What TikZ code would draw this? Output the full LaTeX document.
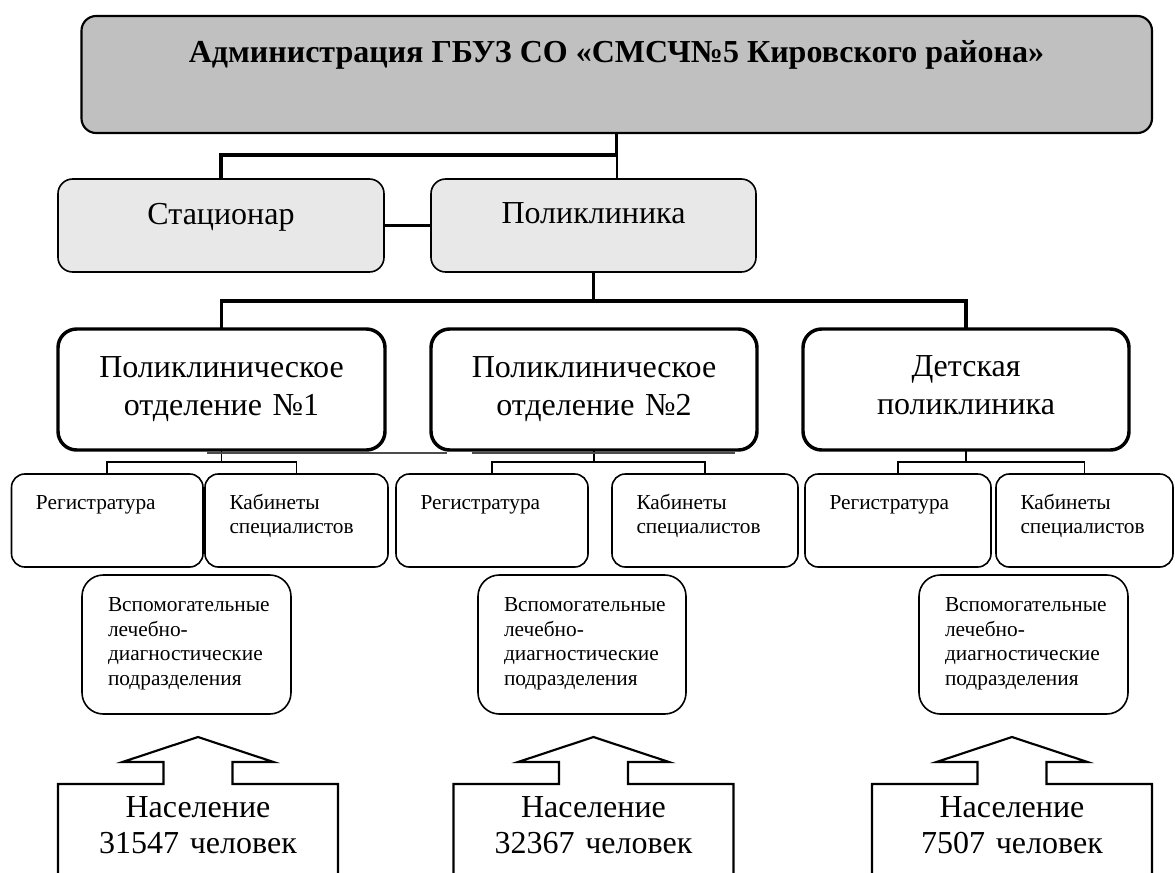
\documentclass[tikz,border=0pt]{standalone}
\usepackage{fontspec}
\setmainfont{Liberation Serif}
\usetikzlibrary{fit}
\definecolor{topgray}{HTML}{C0C0C0}
\definecolor{midgray}{HTML}{E8E8E8}
\tikzset{
  poparrow/.pic={
    \draw[popshape] (-140,90) -- (-140,0) -- (-34.5,0) -- (-34.5,-22) -- (-75.5,-22)
      -- (0,-47) -- (75.5,-22) -- (34.5,-22) -- (34.5,0) -- (140,0) -- (140,90);
  }
}
\begin{document}
\begin{tikzpicture}[x=0.75pt,y=-0.75pt,
  every node/.style={inner sep=0pt, outer sep=0pt},
  topbox/.style={draw, line width=1.6pt, fill=topgray, rounded corners=11pt},
  midbox/.style={draw, line width=1.2pt, fill=midgray, rounded corners=11pt},
  deptbox/.style={draw, line width=2.6pt, rounded corners=14pt},
  subbox/.style={draw, line width=1.2pt, rounded corners=10pt},
  auxbox/.style={draw, line width=1.2pt, rounded corners=16pt},
  bigtext/.style={font=\fontsize{24pt}{28.5pt}\selectfont, align=center, text width=240pt, anchor=base},
  titletext/.style={font=\fontsize{24pt}{28pt}\selectfont\bfseries, anchor=base},
  smalltext/.style={font=\fontsize{16pt}{18.4pt}\selectfont, align=left, text width=140pt, anchor=base west},
  poptext/.style={font=\fontsize{24pt}{27pt}\selectfont, align=center, text width=200pt, anchor=base},
  mainlink/.style={line width=2.4pt},
  sublink/.style={line width=1.2pt},
  popshape/.style={draw, line width=1.6pt},
  shadowline/.style={line width=1pt, draw=black!70}
]
\useasboundingbox (0,0) rectangle (1175,872);
\clip (0,0) rectangle (1175,872);

% top
\node[topbox, fit={(81.5,16) (1152,133)}] (admin) {};
\node[titletext] (admintext) at (616.5,62) {Администрация ГБУЗ СО «СМСЧ№5 Кировского района»};

% level 2
\node[midbox, fit={(58,179) (384,272)}] (stac) {};
\node[bigtext] (stactext) at (221,224) {Стационар};
\node[midbox, fit={(431,179) (756,272)}] (polik) {};
\node[bigtext] (poliktext) at (593.5,223) {Поликлиника};

% level 3
\node[deptbox, fit={(58,329) (385,450)}] (dep1) {};
\node[bigtext] (dep1text) at (221.5,377) {Поликлиническое\\отделение №1};
\node[deptbox, fit={(431,329) (757,450)}] (dep2) {};
\node[bigtext] (dep2text) at (594,377) {Поликлиническое\\отделение №2};
\node[deptbox, fit={(803,329) (1129,450)}] (dep3) {};
\node[bigtext] (dep3text) at (966,376) {Детская\\поликлиника};

% level 4
\node[subbox, fit={(11.5,474) (203,567)}] (reg1) {};
\node[subbox, fit={(205,474) (388,567)}] (kab1) {};
\node[subbox, fit={(396,474) (588,567)}] (reg2) {};
\node[subbox, fit={(612,474) (798,567)}] (kab2) {};
\node[subbox, fit={(805,474) (991,567)}] (reg3) {};
\node[subbox, fit={(996,474) (1173,567)}] (kab3) {};
\foreach \b in {reg1,reg2,reg3}{
  \node[smalltext] (\b text) at ([shift={(24.5,35)}]\b.north west) {Регистратура};
}
\foreach \b in {kab1,kab2,kab3}{
  \node[smalltext] (\b text) at ([shift={(24.5,35)}]\b.north west) {Кабинеты\\специалистов};
}

% level 5
\node[auxbox, fit={(82,575) (291,714)}] (aux1) {};
\node[auxbox, fit={(478,575) (686,714)}] (aux2) {};
\node[auxbox, fit={(919,575) (1128,714)}] (aux3) {};
\foreach \b in {aux1,aux2,aux3}{
  \node[smalltext] (\b text) at ([shift={(26,36.7)}]\b.north west) {Вспомогательные\\лечебно-\\диагностические\\подразделения};
}

% connectors
\coordinate (j1) at (616.75,155);
\draw[mainlink] (admin.south) -- (j1) -| (stac.north);
\draw[sublink] (j1) -- (j1 |- polik.north);
\draw[mainlink] (stac.east) -- (polik.west);
\coordinate (bar) at (593.5,301);
\draw[mainlink] (polik.south) -- (bar);
\draw[mainlink] (dep1.north) |- (bar) -| (dep3.north);
\draw[sublink] (dep1.south) -- ++(0,12) coordinate (s1);
\draw[sublink] (reg1.north) |- (s1) -| (kab1.north);
\draw[sublink] (dep2.south) -- ++(0,12) coordinate (s2);
\draw[sublink] (reg2.north) |- (s2) -| (kab2.north);
\draw[sublink] (dep3.south) -- ++(0,12) coordinate (s3);
\draw[sublink] (reg3.north) |- (s3) -| (kab3.north);

% shadow artifacts
\draw[shadowline] (207,453) -- (447,453);
\draw[shadowline] (472,453) -- (735,453);

% population arrows
\pic (pop1) at (198,784) {poparrow};
\pic (pop2) at (593.5,784) {poparrow};
\pic (pop3) at (1012,784) {poparrow};
\node[poptext] (pop1text) at (198,817.3) {Население\\31547 человек};
\node[poptext] (pop2text) at (593.5,817.3) {Население\\32367 человек};
\node[poptext] (pop3text) at (1012,817.3) {Население\\7507 человек};
\end{tikzpicture}
\end{document}
